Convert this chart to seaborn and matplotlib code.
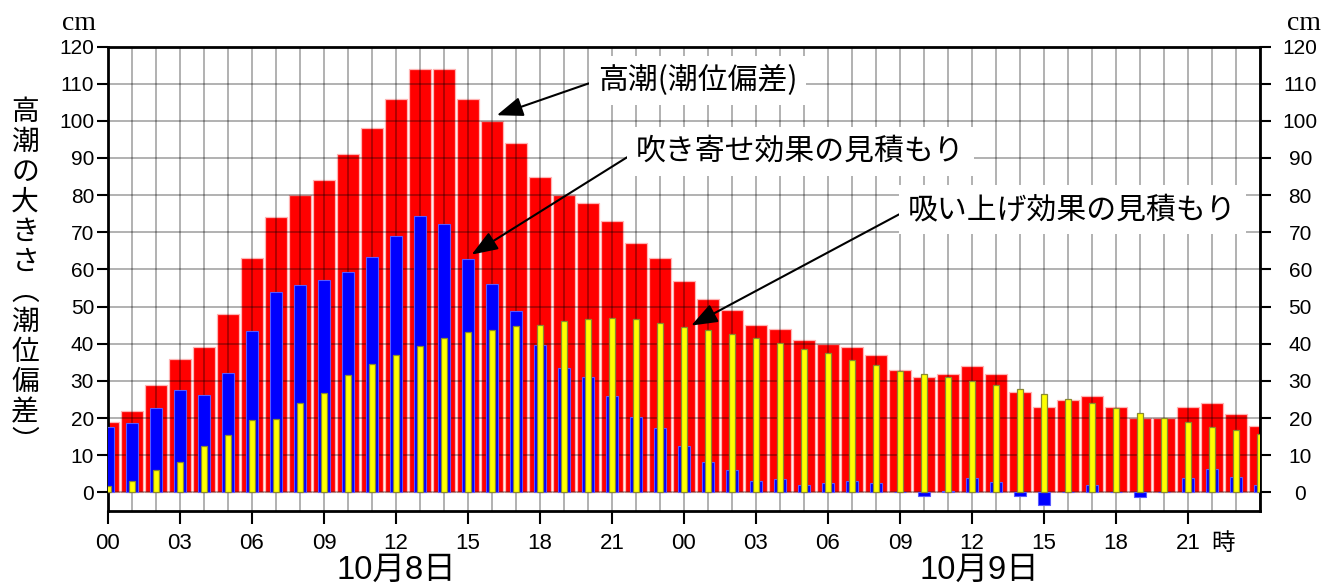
import matplotlib
matplotlib.use("Agg")
import matplotlib.pyplot as plt
from matplotlib.ticker import MultipleLocator
from matplotlib.transforms import blended_transform_factory
import seaborn as sns

# ---- data (cm), hourly from 10/8 00h to 10/10 00h ----
hours = list(range(49))
surge = [19, 22, 29, 36, 39, 48, 63, 74, 80, 84,
         91, 98, 106, 114, 114, 106, 100, 94, 85, 80,
         78, 73, 67, 63, 57, 52, 49, 45, 44, 41,
         40, 39, 37, 33, 31, 32, 34, 32, 27, 23,
         25, 26, 23, 20, 20, 23, 24, 21, 18]
wind_setup = [17.5, 18.6, 22.6, 27.6, 26.3, 32.2, 43.4, 54.0, 55.7, 57.1,
              59.3, 63.3, 69.0, 74.5, 72.3, 62.8, 56.1, 48.9, 39.6, 33.6,
              31.0, 26.0, 20.2, 17.4, 12.6, 8.1, 6.0, 3.2, 3.7, 2.1,
              2.5, 3.1, 2.5, 0.0, -0.9, 0.5, 3.8, 2.9, -0.9, -3.4,
              0.1, 1.9, 0.2, -1.3, 0.0, 3.9, 6.2, 4.1, 1.9]
pressure_rise = [1.7, 3.2, 6.1, 8.3, 12.5, 15.5, 19.4, 19.8, 24.1, 26.8,
                 31.5, 34.5, 36.9, 39.4, 41.6, 43.2, 43.8, 44.9, 45.1, 46.1,
                 46.8, 46.9, 46.8, 45.5, 44.4, 43.7, 42.7, 41.5, 40.1, 38.6,
                 37.4, 35.6, 34.3, 32.7, 31.9, 31.0, 30.1, 29.0, 27.9, 26.5,
                 25.2, 24.0, 22.6, 21.3, 19.9, 18.9, 17.6, 16.9, 15.7]

xtick_pos = list(range(0, 48, 3))
xtick_labels = ["00", "03", "06", "09", "12", "15", "18", "21"] * 2
ytick_pos = list(range(0, 121, 10))
day_labels = ["10月8日", "10月9日"]
day_pos = [12, 36.3]
ylabel_chars = list("高潮の大きさ︵潮位偏差︶")
notes = ["高潮(潮位偏差)", "吹き寄せ効果の見積もり", "吸い上げ効果の見積もり"]

CJK = ["Noto Sans CJK JP", "DejaVu Sans"]
LATIN = ["Liberation Sans", "Noto Sans CJK JP", "DejaVu Sans"]

W, H = 1327, 585
fig = plt.figure(figsize=(W / 100, H / 100), dpi=100)
ax = fig.add_axes([108 / W, 1 - 511 / H, (1260 - 108) / W, (511 - 46.5) / H])

# ---- bars ----
sns.barplot(x=hours, y=surge, native_scale=True, orient="x", width=0.92,
            color="#ff0000", saturation=1, errorbar=None,
            edgecolor="#ffb4b4", linewidth=0.9, zorder=1, ax=ax)
sns.barplot(x=hours, y=wind_setup, native_scale=True, orient="x", width=0.48,
            color="#0000ff", saturation=1, errorbar=None,
            edgecolor="#5a5aff", linewidth=0.8, zorder=3, ax=ax)
sns.barplot(x=hours, y=pressure_rise, native_scale=True, orient="x", width=0.25,
            color="#ffff00", saturation=1, errorbar=None,
            edgecolor="#8a8a30", linewidth=0.9, zorder=3, ax=ax)

ax.set_xlim(0, 48)
ax.set_ylim(-5, 120)
ax.set_xlabel("")
ax.set_ylabel("")

# grid: every hour, every 10 cm; sits above the red bars, below the others
ax.xaxis.set_minor_locator(MultipleLocator(1))
ax.set_xticks(xtick_pos)
ax.set_xticklabels(xtick_labels, family=LATIN, fontsize=16)
ax.set_yticks(ytick_pos)
ax.set_yticklabels([str(v) for v in ytick_pos], family=LATIN, fontsize=15)
ax.set_axisbelow(False)
ax.grid(which="both", axis="x", color="black", alpha=0.33, lw=1.3)
ax.grid(which="major", axis="y", color="black", alpha=0.33, lw=1.3)
ax.tick_params(axis="x", which="major", direction="out", length=9, width=1.5, pad=6.5)
ax.tick_params(axis="x", which="minor", length=0)
ax.tick_params(axis="y", direction="out", length=8, width=1.5, pad=2)
for s in ax.spines.values():
    s.set_linewidth(2)
    s.set_color("black")

# right-hand scale
ax2 = ax.twinx()
ax2.set_ylim(ax.get_ylim())
ax2.set_yticks(ytick_pos)
ax2.set_yticklabels([str(v) for v in ytick_pos], family=LATIN, fontsize=15)
for lbl in ax2.get_yticklabels():
    lbl.set_ha("center")
ax2.tick_params(axis="y", direction="out", length=8, width=1.5, pad=21)
for s in ax2.spines.values():
    s.set_visible(False)

# units
fig.text(96 / W, 1 - 30 / H, "cm", ha="right", va="baseline",
         family="Liberation Serif", fontsize=20)
fig.text(1321 / W, 1 - 30 / H, "cm", ha="right", va="baseline",
         family="Liberation Serif", fontsize=20)

# vertical y-axis title, one glyph per row
for i, ch in enumerate(ylabel_chars):
    fig.text(25 / W, 1 - (112 + 30 * i) / H, ch, ha="center", va="center",
             family=CJK, fontsize=20)

# day labels and hour unit below the time axis
tr = blended_transform_factory(ax.transData, fig.transFigure)
for pos, lab in zip(day_pos, day_labels):
    ax.text(pos, 1 - 579 / H, lab, transform=tr, ha="center", va="baseline",
            family=LATIN, fontsize=23.5, clip_on=False)
ax.text(46.45, 1 - 543 / H, "時", transform=tr, ha="center", va="center",
        family=CJK, fontsize=17, clip_on=False)

# callouts
arrow = dict(arrowstyle="-|>,head_length=0.8,head_width=0.3", mutation_scale=20,
             color="black", lw=1.5, shrinkA=0, shrinkB=0, relpos=(0, 0.5))
box = dict(boxstyle="square,pad=0.3", fc="white", ec="none")
ax.annotate(notes[0], xy=(hours[16] + 0.2, surge[16] + 1.5), xytext=(20.4, 110.9),
            ha="left", va="center", family=CJK, fontsize=21.5,
            bbox=box, arrowprops=arrow, zorder=5)
ax.annotate(notes[1], xy=(hours[15] + 0.15, wind_setup[15] + 1.2), xytext=(22.0, 91.7),
            ha="left", va="center", family=CJK, fontsize=21.5,
            bbox=box, arrowprops=arrow, zorder=5)
ax.annotate(notes[2], xy=(hours[24] + 0.3, pressure_rise[24] + 0.5), xytext=(33.33, 76.1),
            ha="left", va="center", family=CJK, fontsize=21.5,
            bbox=box, arrowprops=arrow, zorder=5)

fig.savefig("out.png", dpi=100)
